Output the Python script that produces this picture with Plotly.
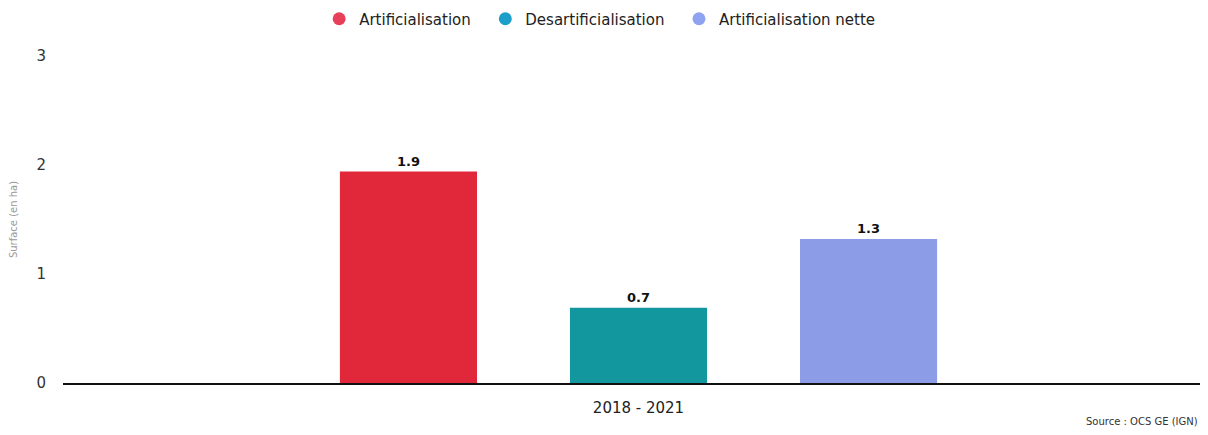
import plotly.graph_objects as go

categories = ["2018 - 2021"]
series_names = ["Artificialisation", "Desartificialisation", "Artificialisation nette"]
artif = [1.94]
desartif = [0.69]
nette = [1.32]
labels_text = ["1.9", "0.7", "1.3"]
bar_colors = ["#e1283b", "#12979f", "#8c9ce6"]
legend_colors = ["#e8405a", "#1b9ec8", "#8fa2f2"]
y_ticks = [0, 1, 2, 3]

# page body has an 8px default margin, so the figure is drawn at (8, 8)
W, H = 1200, 427
L, R, T, B = 55, 8, 48, 52
plot_h = H - T - B

fig = go.Figure()
for name, vals, col, lab in zip(series_names, [artif, desartif, nette], bar_colors, labels_text):
    fig.add_trace(go.Bar(
        x=categories, y=vals, name=name, marker=dict(color=col, line=dict(width=0)),
        text=[lab], textposition="outside", cliponaxis=False,
        textfont=dict(family="DejaVu Sans", size=13, color="#111111", weight="bold"),
        showlegend=False,
    ))
# legend entries with circle markers
pads = ["\u00a0\u00a0", "\u00a0\u00a0", ""]
for name, col, pad in zip(series_names, legend_colors, pads):
    fig.add_trace(go.Scatter(
        x=[None], y=[None], mode="markers", name=name + pad,
        marker=dict(symbol="circle", size=13, color=col),
        showlegend=True,
    ))

fig.update_layout(
    width=W, height=H,
    paper_bgcolor="white", plot_bgcolor="white",
    margin=dict(l=L, r=R, t=T, b=B, autoexpand=False),
    font=dict(family="DejaVu Sans", size=15, color="#333333"),
    barmode="group", bargap=0.393, bargroupgap=0.404,
    showlegend=True,
    legend=dict(orientation="h", x=0.472, xanchor="center", y=1 - 11 / H, yanchor="middle",
                yref="container", font=dict(size=15, color="#222222"),
                itemsizing="trace", traceorder="normal", tracegroupgap=0),
    xaxis=dict(showgrid=False, showline=True, linecolor="#111111", linewidth=1.5,
               range=[-0.50616, 0.49384], ticklabelstandoff=10,
               ticks="", tickfont=dict(size=15, color="#222222"), zeroline=False),
    yaxis=dict(range=[0, 3], tickvals=y_ticks, showgrid=False, zeroline=False,
               showline=False, tickfont=dict(size=15, color="#333333"), ticklabelstandoff=16,
               title=dict(text="Surface (en ha)", font=dict(size=10, color="#999999"), standoff=18)),
    annotations=[dict(text="Source : OCS GE (IGN)", xref="paper", yref="paper",
                      x=1.0, y=-38 / plot_h, xanchor="right", yanchor="middle", showarrow=False,
                      font=dict(size=10, color="#333333"))],
)

fig.write_html("out.html")
